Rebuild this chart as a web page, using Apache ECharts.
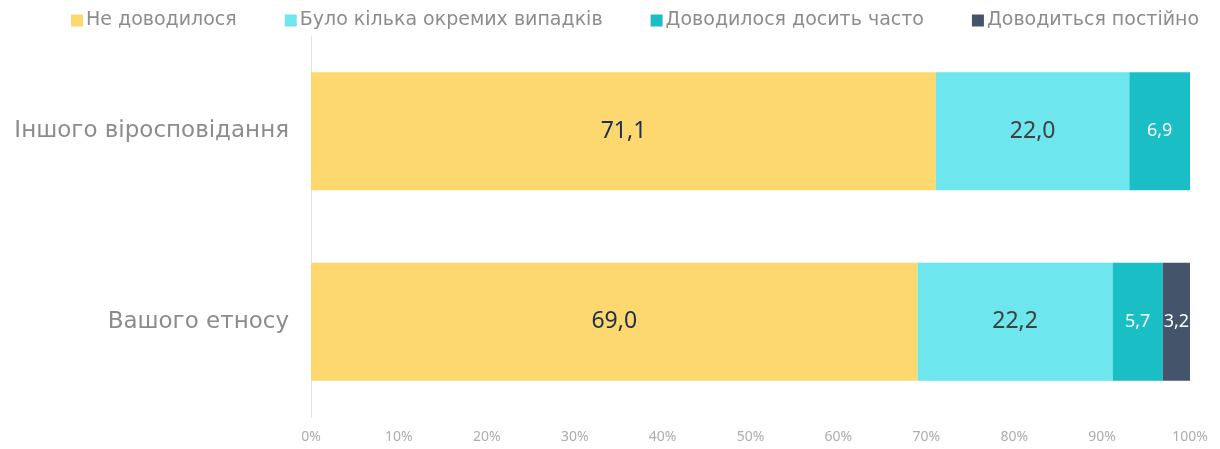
<!DOCTYPE html>
<html>
<head>
<meta charset="utf-8">
<script src="https://cdn.jsdelivr.net/npm/echarts@6/dist/echarts.min.js"></script>
<style>
  html, body { margin: 0; padding: 0; background: #fff; }
  #chart { width: 1220px; height: 449px; }
</style>
</head>
<body>
<div id="chart"></div>
<script>
// data
var categories = ['Вашого етносу', 'Іншого віросповідання'];
var seriesNames = ['Не доводилося', 'Було кілька окремих випадків', 'Доводилося досить часто', 'Доводиться постійно'];
var neverVals = [69.0, 71.1];
var fewVals = [22.2, 22.0];
var oftenVals = [5.7, 6.9];
var alwaysVals = [3.2, 0];
var tickLabels = ['0%', '10%', '20%', '30%', '40%', '50%', '60%', '70%', '80%', '90%', '100%'];

var colors = ['#FDD86F', '#6DE6ED', '#1ABFC6', '#44546A'];
var labelColors = ['#1F2D4E', '#404040', '#ffffff', '#ffffff'];
var font = '"Noto Sans", "DejaVu Sans", sans-serif';
var wideFont = '"DejaVu Sans", "Noto Sans", sans-serif';

var dom = document.getElementById('chart');
var myChart = echarts.init(dom);

function makeSeries(i, vals) {
    return {
        name: seriesNames[i],
        type: 'bar',
        stack: 'total',
        barWidth: '62%',
        clip: true,
        data: vals,
        itemStyle: { color: colors[i] },
        label: {
            show: true,
            position: 'inside',
            color: labelColors[i],
            fontFamily: font,
            fontSize: i < 2 ? 23 : 18,
            formatter: function (p) {
                if (!p.value) return '';
                return p.value.toFixed(1).replace('.', ',');
            }
        }
    };
}

var option = {
    animation: false,
    textStyle: { fontFamily: font },
    legend: {
        top: 6,
        left: 66,
        itemWidth: 12,
        itemHeight: 12,
        itemGap: 48,
        icon: 'rect',
        textStyle: { color: '#8C8C8C', fontSize: 19, fontFamily: wideFont, padding: [0, 0, 0, -2] },
        data: seriesNames
    },
    grid: { left: 311, right: 30, top: 36, bottom: 32 },
    xAxis: {
        type: 'value',
        min: 0,
        max: 100,
        interval: 10,
        axisLine: { show: false },
        axisTick: { show: false },
        splitLine: { show: false },
        axisLabel: {
            color: '#ADADAD',
            fontSize: 14,
            margin: 13,
            formatter: function (v) { return tickLabels[Math.round(v / 10)]; }
        }
    },
    yAxis: {
        type: 'category',
        data: categories,
        axisLine: { show: true, lineStyle: { color: '#E3E3E3' } },
        axisTick: { show: false },
        axisLabel: { color: '#8C8C8C', fontSize: 23, margin: 22, fontFamily: wideFont }
    },
    series: [
        makeSeries(0, neverVals),
        makeSeries(1, fewVals),
        makeSeries(2, oftenVals),
        makeSeries(3, alwaysVals)
    ]
};

if (option && typeof option === 'object') {
    myChart.setOption(option, true);
}
</script>
</body>
</html>
